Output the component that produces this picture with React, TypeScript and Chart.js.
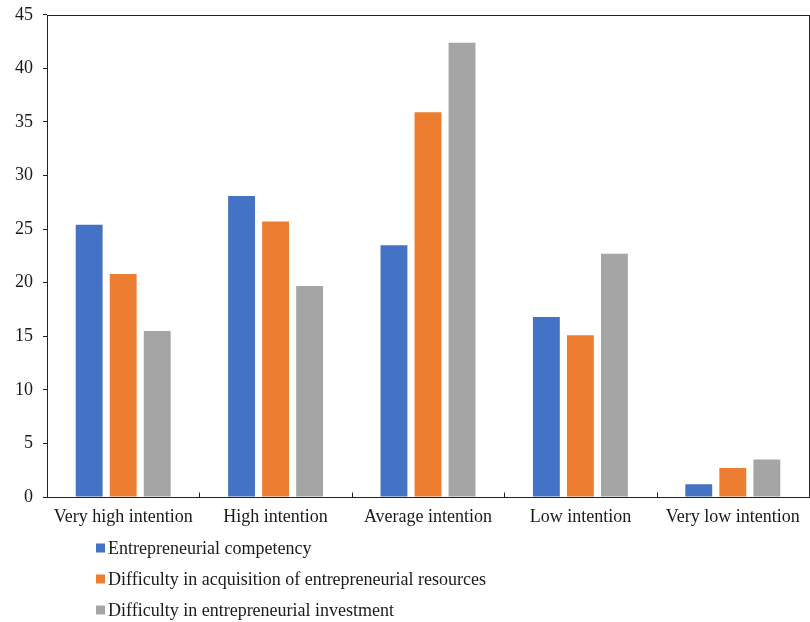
import React, { useEffect, useRef } from "react";
import { Chart, registerables } from "chart.js";

Chart.register(...registerables);

const categories = [
  "Very high intention",
  "High intention",
  "Average intention",
  "Low intention",
  "Very low intention",
];

const seriesLabels = [
  "Entrepreneurial competency",
  "Difficulty in acquisition of entrepreneurial resources",
  "Difficulty in entrepreneurial investment",
];

const competency = [25.4, 28.1, 23.5, 16.8, 1.2];
const resourceDifficulty = [20.8, 25.7, 35.9, 15.1, 2.7];
const investmentDifficulty = [15.5, 19.7, 42.4, 22.7, 3.5];

const seriesColors = ["#4472C4", "#ED7D31", "#A5A5A5"];

const yMin = 0;
const yMax = 45;
const yStep = 5;

const FONT = "'Liberation Serif', 'Times New Roman', serif";
const INK = "#1a1a1a";

// Frame around the plot area, inward category ticks, and a stacked legend below
const framePlugin = {
  id: "frameAndLegend",
  afterDraw(chart: any) {
    const { ctx, chartArea } = chart;
    const x = chart.scales.x;
    ctx.save();
    ctx.strokeStyle = "#222";
    ctx.lineWidth = 1;
    ctx.strokeRect(
      Math.round(chartArea.left) + 0.5,
      Math.round(chartArea.top) + 0.5,
      Math.round(chartArea.right - chartArea.left),
      Math.round(chartArea.bottom - chartArea.top)
    );
    // category separator ticks pointing into the plot
    const n = chart.data.labels.length;
    const bottom = Math.round(chartArea.bottom) + 0.5;
    for (let i = 1; i < n; i++) {
      const px = Math.round((x.getPixelForValue(i - 1) + x.getPixelForValue(i)) / 2) + 0.5;
      ctx.beginPath();
      ctx.moveTo(px, bottom);
      ctx.lineTo(px, bottom - 5);
      ctx.stroke();
    }
    // legend: one entry per row
    ctx.font = `18px ${FONT}`;
    ctx.textBaseline = "middle";
    ctx.textAlign = "left";
    const rowOffsets = [51, 82, 113];
    chart.data.datasets.forEach((ds: any, i: number) => {
      const cy = chartArea.bottom + rowOffsets[i];
      const sx = 96;
      ctx.fillStyle = ds.backgroundColor;
      ctx.fillRect(sx, cy - 4.5, 9, 9);
      ctx.fillStyle = INK;
      ctx.fillText(ds.label, sx + 12, cy + 1);
    });
    ctx.restore();
  },
};

export default function App() {
  const canvasRef = useRef<HTMLCanvasElement | null>(null);

  useEffect(() => {
    const canvas = canvasRef.current;
    if (!canvas) return;
    const seriesValues = [competency, resourceDifficulty, investmentDifficulty];
    const chart = new Chart(canvas, {
      type: "bar",
      data: {
        labels: categories,
        datasets: seriesLabels.map((label, i) => ({
          label,
          data: seriesValues[i],
          backgroundColor: seriesColors[i],
          borderWidth: 0,
          barPercentage: 0.79,
          categoryPercentage: 0.67,
        })),
      },
      options: {
        animation: false,
        responsive: false,
        maintainAspectRatio: false,
        layout: { padding: { left: 5, right: 1, top: 9, bottom: 95 } },
        plugins: {
          legend: { display: false },
          tooltip: { enabled: false },
          title: { display: false },
        },
        scales: {
          x: {
            grid: { display: false, drawTicks: false },
            border: { display: false },
            afterFit: (scale: any) => {
              scale.height = 30;
            },
            ticks: {
              color: INK,
              font: { family: FONT, size: 18 },
              padding: 9,
              maxRotation: 0,
              autoSkip: false,
            },
          },
          y: {
            min: yMin,
            max: yMax,
            grid: {
              display: true,
              drawOnChartArea: false,
              drawTicks: true,
              tickLength: 4,
              color: "#222",
            },
            border: { display: false },
            ticks: {
              stepSize: yStep,
              color: INK,
              font: { family: FONT, size: 18 },
              padding: 10,
            },
          },
        },
      },
      plugins: [framePlugin],
    });
    return () => chart.destroy();
  }, []);

  return (
    <div style={{ position: "absolute", left: 0, top: 0, width: 810, height: 622, overflow: "hidden", background: "#fff" }}>
      <canvas
        ref={canvasRef}
        width={810}
        height={628}
        style={{ display: "block", position: "absolute", left: 0, top: -6 }}
      />
    </div>
  );
}
